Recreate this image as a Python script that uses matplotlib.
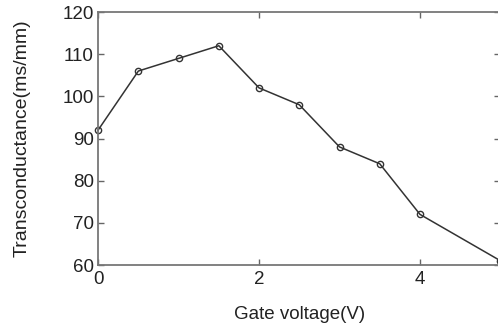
import matplotlib
matplotlib.use("Agg")
import matplotlib.pyplot as plt

gate_voltage = [0, 0.5, 1, 1.5, 2, 2.5, 3, 3.5, 4, 5]
transconductance = [92, 106, 109, 112, 102, 98, 88, 84, 72, 61]
x_ticks = [0, 2, 4]
y_ticks = [60, 70, 80, 90, 100, 110, 120]

plt.rcParams['font.family'] = ['Liberation Sans', 'DejaVu Sans']

fig = plt.figure(figsize=(4.98, 3.29), dpi=100)
ax = fig.add_axes([0.197, 0.1945, 0.808, 0.769])
ax.plot(gate_voltage, transconductance, color='#333333', lw=1.1,
        marker='o', ms=4.5, mfc='none', mec='#333333', mew=1.0, clip_on=False)
ax.set_xlim(0, 5)
ax.set_ylim(60, 120)
ax.set_xticks(x_ticks)
ax.set_yticks(y_ticks)
ax.tick_params(direction='in', top=True, right=True, length=4, width=1,
               colors='#666666', labelcolor='#222222', labelsize=13.5)
ax.tick_params(axis='x', pad=4)
ax.tick_params(axis='y', pad=3)
for s in ax.spines.values():
    s.set_color('#777777')
    s.set_linewidth(1.3)
ax.set_xlabel('Gate voltage(V)', fontsize=13.5, color='#222222')
ax.set_ylabel('Transconductance(ms/mm)', fontsize=14, color='#222222')
ax.xaxis.set_label_coords(0.5, -0.163)
ax.yaxis.set_label_coords(-0.168, 0.5)
fig.savefig('out.png', dpi=100)
